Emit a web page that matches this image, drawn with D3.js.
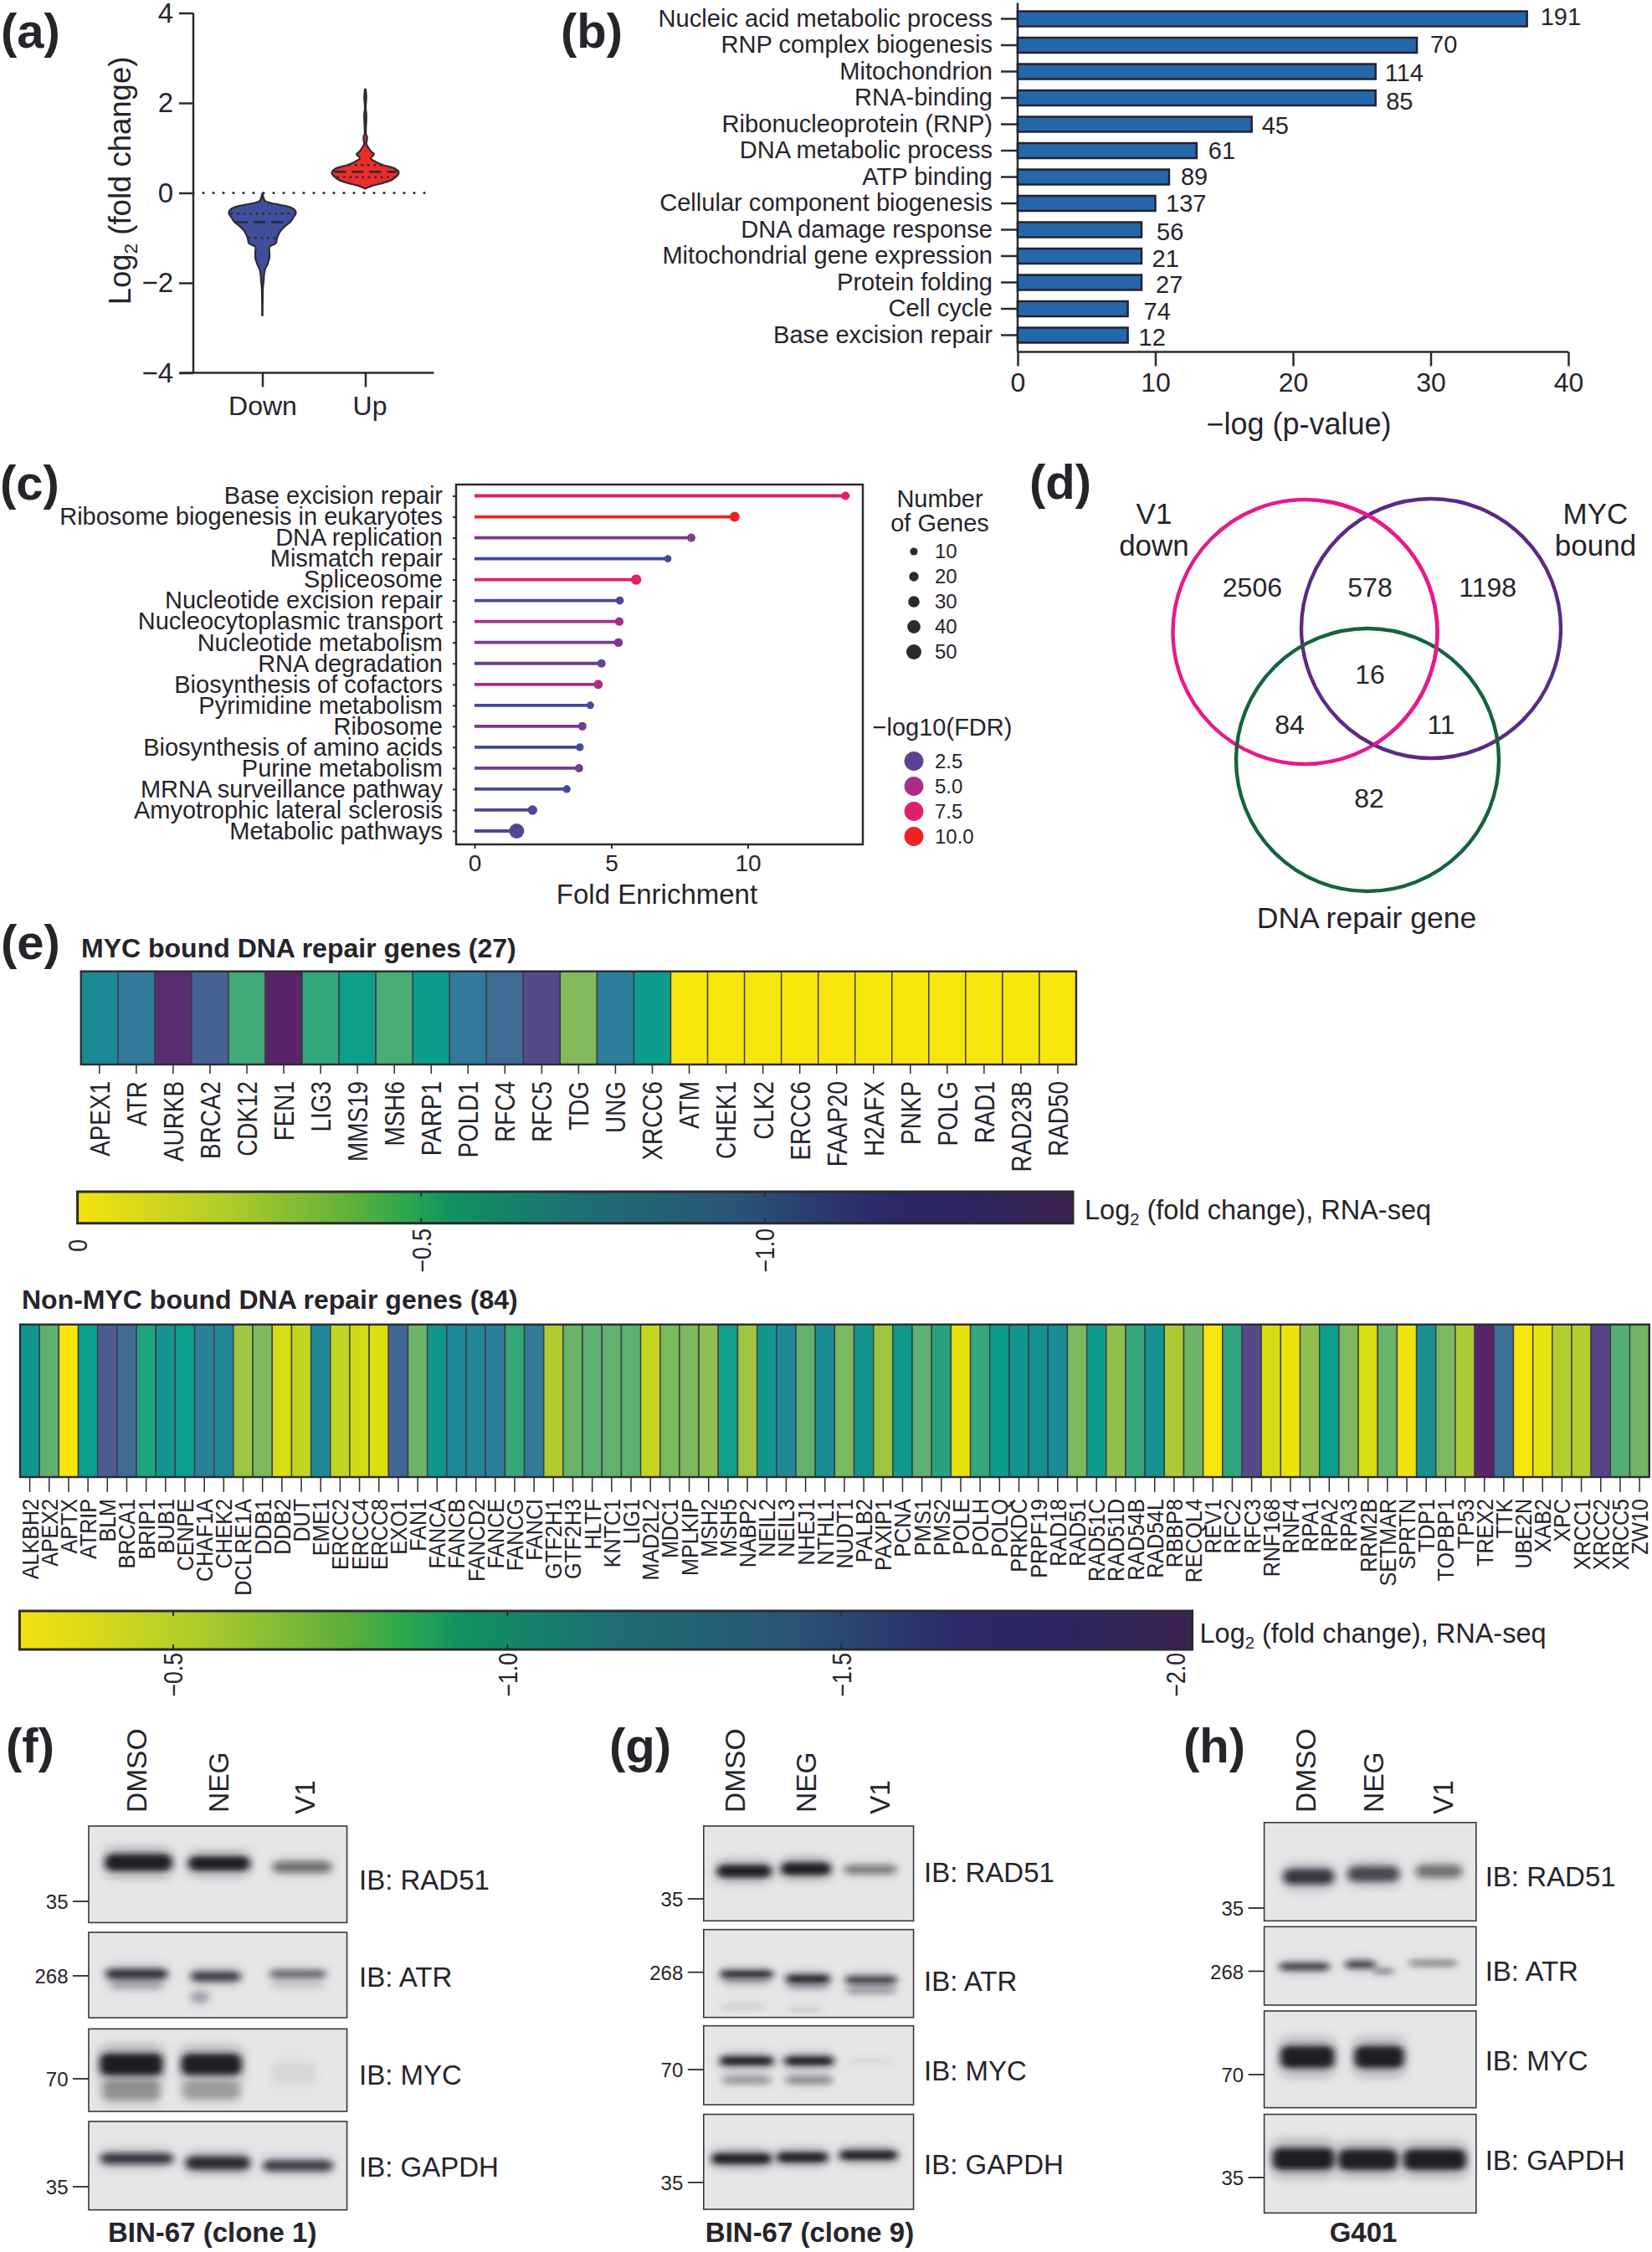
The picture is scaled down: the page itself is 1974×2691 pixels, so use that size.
<!DOCTYPE html>
<html><head><meta charset="utf-8">
<script src="https://cdnjs.cloudflare.com/ajax/libs/d3/7.8.5/d3.min.js"></script>
<style>html,body{margin:0;padding:0;background:#fff}svg{display:block}
text{font-family:"Liberation Sans",Arial,sans-serif;fill:#26242b}
.domain{stroke:#2b2a30}.tick line{stroke:#2b2a30}</style></head><body>
<script>
// ---------- DATA ----------
const violinDownLevels=[0,-.1,-.19,-.26,-.32,-.38,-.45,-.54,-.64,-.74,-.86,-1.0,-1.12,-1.2,-1.31,-1.44,-1.57,-1.7,-1.82,-1.95,-2.08,-2.72];
const violinDownDensity=[0,.03,.1,.5,.84,.97,1,.93,.84,.68,.53,.44,.4,.21,.21,.21,.16,.08,.05,.04,.02,.005];
const violinUpLevels=[.1,.16,.22,.29,.38,.45,.54,.62,.7,.77,.86,.93,1.02,1.09,1.18,1.25,1.31,1.63,1.76,1.89,2.14,2.3];
const violinUpDensity=[.02,.21,.53,.79,.95,1,.89,.53,.29,.16,.26,.16,.08,.03,.05,.05,.02,.03,.03,.01,.03,.01];
const violinDownQuart=[-.46,-.65,-1.0];
const violinUpQuart=[.62,.47,.35];

const goTerms=["Nucleic acid metabolic process","RNP complex biogenesis","Mitochondrion","RNA-binding","Ribonucleoprotein (RNP)","DNA metabolic process","ATP binding","Cellular component biogenesis","DNA damage response","Mitochondrial gene expression","Protein folding","Cell cycle","Base excision repair"];
const goLogP=[37,29,26,26,17,13,11,10,9,9,9,8,8];
const goCounts=[191,70,114,85,45,61,89,137,56,21,27,74,12];

const pathways=["Base excision repair","Ribosome biogenesis in eukaryotes","DNA replication","Mismatch repair","Spliceosome","Nucleotide excision repair","Nucleocytoplasmic transport","Nucleotide metabolism","RNA degradation","Biosynthesis of cofactors","Pyrimidine metabolism","Ribosome","Biosynthesis of amino acids","Purine metabolism","MRNA surveillance pathway","Amyotrophic lateral sclerosis","Metabolic pathways"];
const foldEnrichment=[13.58,9.52,7.93,7.07,5.91,5.31,5.29,5.26,4.64,4.52,4.23,3.94,3.85,3.82,3.37,2.12,1.54];
const pathwayGenes=[13,22,14,8,24,12,15,16,14,18,9,14,10,13,10,20,50];
const pathwayFDR=[7.9,10,3.6,1.2,7.6,1.9,5,3.5,2.8,5,1.3,3.3,1.3,3.1,1.3,1.9,2.2];
const geneLegend=[10,20,30,40,50];
const fdrLegend=[2.5,5,7.5,10];

const vennCounts=[2506,578,1198,16,84,11,82];

const mycGenes=["APEX1","ATR","AURKB","BRCA2","CDK12","FEN1","LIG3","MMS19","MSH6","PARP1","POLD1","RFC4","RFC5","TDG","UNG","XRCC6","ATM","CHEK1","CLK2","ERCC6","FAAP20","H2AFX","PNKP","POLG","RAD1","RAD23B","RAD50"];
const mycFC=[-.90,-1.02,-1.42,-1.19,-.61,-1.45,-.64,-.72,-.58,-.75,-1.02,-1.13,-1.33,-.43,-.99,-.75,0,0,0,0,0,0,0,0,0,0,0];
const nonMycGenes=["ALKBH2","APEX2","APTX","ATRIP","BLM","BRCA1","BRIP1","BUB1","CENPE","CHAF1A","CHEK2","DCLRE1A","DDB1","DDB2","DUT","EME1","ERCC2","ERCC4","ERCC8","EXO1","FAN1","FANCA","FANCB","FANCD2","FANCE","FANCG","FANCI","GTF2H1","GTF2H3","HLTF","KNTC1","LIG1","MAD2L2","MDC1","MPLKIP","MSH2","MSH5","NABP2","NEIL2","NEIL3","NHEJ1","NTHL1","NUDT1","PALB2","PAXIP1","PCNA","PMS1","PMS2","POLE","POLH","POLQ","PRKDC","PRPF19","RAD18","RAD51","RAD51C","RAD51D","RAD54B","RAD54L","RBBP8","RECQL4","REV1","RFC2","RFC3","RNF168","RNF4","RPA1","RPA2","RPA3","RRM2B","SETMAR","SPRTN","TDP1","TOPBP1","TP53","TREX2","TTK","UBE2N","XAB2","XPC","XRCC1","XRCC2","XRCC5","ZW10"];
const nonMycFC=[-1.24,-.92,-.27,-1.15,-1.76,-1.64,-1.09,-1.29,-1.15,-1.45,-1.38,-.69,-.81,-.45,-.55,-1.38,-.55,-.48,-.43,-1.67,-.87,-1.27,-1.38,-1.41,-1.48,-1.04,-1.50,-.62,-.88,-.92,-.90,-.92,-.53,-.81,-.81,-.74,-1.13,-.69,-1.25,-1.38,-.90,-1.34,-.81,-1.27,-.69,-1.22,-.92,-1.08,-.39,-1.04,-1.18,-1.27,-1.31,-1.34,-.81,-1.17,-.74,-1.04,-1.29,-.64,-.87,-.27,-1.06,-1.88,-.46,-.34,-.74,-1.15,-.81,-.45,-.88,-.32,-1.32,-.81,-.64,-2.03,-1.59,-.27,-.36,-.60,-.60,-1.90,-.95,-.85];

const lanes=["DMSO","NEG","V1"];
const targets=["RAD51","ATR","MYC","GAPDH"];

// ---------- SETUP ----------
const svg=d3.select("body").append("svg").attr("width",1974).attr("height",2691).attr("viewBox","0 0 1974 2691");
svg.append("rect").attr("width",1974).attr("height",2691).attr("fill","#fff");
const INK="#2b2a30";
function T(g,x,y,s,o={}){
  const t=g.append("text").attr("x",x).attr("y",y).attr("font-size",o.size||32).attr("text-anchor",o.anchor||"start").text(s);
  if(o.bold)t.attr("font-weight","bold");
  if(o.dy)t.attr("dy",o.dy); else t.attr("dy","0.35em");
  if(o.tf)t.attr("transform",o.tf);
  return t;
}
function logLabel(g,x,y,size,o={}){ // Log2 (fold change) with subscript
  const t=g.append("text").attr("x",x).attr("y",y).attr("font-size",size).attr("text-anchor",o.anchor||"start");
  if(o.tf)t.attr("transform",o.tf);
  t.append("tspan").text("Log");
  t.append("tspan").attr("font-size",size*.62).attr("dy",size*.22).text("2");
  t.append("tspan").attr("dy",-size*.22).text(o.rest);
  return t;
}
[["(a)",1,57],["(b)",670,57],["(c)",0,597],["(d)",1230,596],["(e)",1,1146],["(f)",7,2106],["(g)",728,2106],["(h)",1414,2106]]
 .forEach(d=>T(svg,d[1],d[2],d[0],{size:58,bold:true,dy:"0"}));

// ---------- (a) VIOLIN ----------
(function(){
  const g=svg.append("g");
  const y=d3.scaleLinear().domain([-4,4]).range([445.5,15.5]);
  const x=d3.scalePoint().domain(["Down","Up"]).range([313.5,436.5]);
  const w=d3.scaleLinear().domain([0,1]).range([0,40]);
  const ax=g.append("g").attr("transform","translate(231,0)").call(d3.axisLeft(y).tickValues([-4,-2,0,2,4]).tickSize(17).tickPadding(7).tickFormat(d=>String(d).replace("-","−")));
  ax.selectAll("text").attr("font-size",33);
  ax.selectAll("path,line").attr("stroke-width",2.5);
  ax.select(".domain").attr("d","M0,15.5V445.5");
  const bx=g.append("g").attr("transform","translate(0,445.5)").call(d3.axisBottom(x).tickSize(17).tickPadding(11));
  bx.selectAll("text").attr("font-size",32).attr("x",d=>d==="Up"?5:0);
  bx.selectAll("path,line").attr("stroke-width",2.5);
  bx.select(".domain").attr("d","M215,0H518.5");
  g.append("line").attr("x1",231).attr("x2",509).attr("y1",y(0)).attr("y2",y(0)).attr("stroke",INK).attr("stroke-width",3.2).attr("stroke-linecap","round").attr("stroke-dasharray","0 12");
  function violin(name,levels,dens,q,fill){
    const cx=x(name);
    const rows=levels.map((l,i)=>({l,d:dens[i]}));
    const a=d3.area().y(d=>y(d.l)).x0(d=>cx-w(d.d)).x1(d=>cx+w(d.d)).curve(d3.curveCatmullRom);
    g.append("path").datum(rows).attr("d",a).attr("fill",fill).attr("stroke",INK).attr("stroke-width",2.2);
    const sorted=rows.slice().sort((p,r)=>p.l-r.l);
    const den=v=>{let i=d3.bisector(d=>d.l).left(sorted,v);i=Math.max(1,Math.min(sorted.length-1,i));const p=sorted[i-1],r=sorted[i];return p.d+(r.d-p.d)*(v-p.l)/(r.l-p.l);};
    q.forEach((v,i)=>{const hw=w(den(v))*.95;
      g.append("line").attr("x1",cx-hw).attr("x2",cx+hw).attr("y1",y(v)).attr("y2",y(v)).attr("stroke",INK).attr("stroke-width",2.4).attr("stroke-dasharray",i==1?"14,7":"2.5,5");
    });
  }
  violin("Down",violinDownLevels,violinDownDensity,violinDownQuart,"#3f4f9c");
  violin("Up",violinUpLevels,violinUpDensity,violinUpQuart,"#ec2b2b");
  logLabel(g,0,0,36.5,{anchor:"middle",rest:" (fold change)",tf:"translate(156,216) rotate(-90)"});
})();

// ---------- (b) BARS ----------
(function(){
  const g=svg.append("g");
  const x=d3.scaleLinear().domain([0,40]).range([1216,1874]);
  const y=d3.scaleBand().domain(goTerms).range([6.75,416.25]).paddingInner(.43).paddingOuter(.215);
  const ay=g.append("g").attr("transform","translate(1216,0)").call(d3.axisLeft(y).tickSize(20).tickPadding(10));
  ay.selectAll("text").attr("font-size",29.1);
  ay.selectAll("path,line").attr("stroke-width",2.5);
  ay.select(".domain").attr("d","M0,3.4V420.5");
  const ax=g.append("g").attr("transform","translate(0,420.5)").call(d3.axisBottom(x).tickValues([0,10,20,30,40]).tickSize(17).tickPadding(8));
  ax.selectAll("text").attr("font-size",32);
  ax.selectAll("path,line").attr("stroke-width",2.5);
  ax.select(".domain").attr("d","M1216,0H1874");
  g.selectAll("rect.bar").data(goTerms).join("rect").attr("class","bar")
   .attr("x",x(0)).attr("y",d=>y(d)).attr("width",(d,i)=>x(goLogP[i])-x(0)).attr("height",y.bandwidth())
   .attr("fill","#2567ab").attr("stroke","#22222e").attr("stroke-width",2.5);
  const gap=[16,16,11,12.5,12,14,14,12.5,18,12.5,17,19,13], nudge=[-3,-1,1,3.5,1,0,-1,0,2.5,2.5,2,3,2];
  g.selectAll("text.val").data(goCounts).join("text").attr("class","val")
   .attr("x",(d,i)=>x(goLogP[i])+gap[i]).attr("y",(d,i)=>y(goTerms[i])+y.bandwidth()/2+nudge[i]).attr("dy",".35em").attr("font-size",29).text(d=>d);
  T(g,1552,506,"−log (p-value)",{size:36,anchor:"middle"});
})();

// ---------- (c) LOLLIPOP ----------
(function(){
  const g=svg.append("g");
  const x=d3.scaleLinear().domain([0,5,10]).range([567,730.5,893.5]);
  const y=d3.scalePoint().domain(pathways).range([592.5,993]);
  const r=d3.scaleLinear().domain([10,50]).range([4.6,9]);
  const col=d3.scaleLinear().domain([1,2.5,5,7.5,10]).range(["#3f4a9c","#5b4394","#ae2a88","#e0206a","#ed2224"]);
  const ay=g.append("g").attr("transform","translate(545,0)").call(d3.axisLeft(y).tickSize(4).tickPadding(12));
  ay.selectAll("text").attr("font-size",29);
  ay.select(".domain").remove();
  ay.selectAll("line").attr("stroke-width",2);
  const ax=g.append("g").attr("transform","translate(0,1009)").call(d3.axisBottom(x).tickValues([0,5,10]).tickSize(5).tickPadding(7));
  ax.selectAll("text").attr("font-size",28);
  ax.select(".domain").remove();
  ax.selectAll("line").attr("stroke-width",2);
  g.append("rect").attr("x",545).attr("y",579).attr("width",486).attr("height",430).attr("fill","none").attr("stroke",INK).attr("stroke-width",2.5);
  pathways.forEach((p,i)=>{
    g.append("line").attr("x1",x(0)).attr("x2",x(foldEnrichment[i])).attr("y1",y(p)).attr("y2",y(p)).attr("stroke",col(pathwayFDR[i])).attr("stroke-width",3.8);
    g.append("circle").attr("cx",x(foldEnrichment[i])).attr("cy",y(p)).attr("r",r(pathwayGenes[i])).attr("fill",col(pathwayFDR[i]));
  });
  T(g,785,1068,"Fold Enrichment",{size:33,anchor:"middle"});
  T(g,1123,596,"Number",{size:29,anchor:"middle"});
  T(g,1123,625,"of Genes",{size:29,anchor:"middle"});
  geneLegend.forEach((v,i)=>{const cy=659+i*30;
    g.append("circle").attr("cx",1092).attr("cy",cy).attr("r",r(v)).attr("fill",INK);
    T(g,1117,cy,v,{size:24});});
  T(g,1126,869,"−log10(FDR)",{size:29,anchor:"middle"});
  fdrLegend.forEach((v,i)=>{const cy=909.5+i*30;
    g.append("circle").attr("cx",1092).attr("cy",cy).attr("r",11.4).attr("fill",col(v));
    T(g,1117,cy,v.toFixed(1),{size:24});});
})();

// ---------- (d) VENN ----------
(function(){
  const g=svg.append("g");
  [[1559.5,755,158,"#e8198a"],[1710,751,155,"#5a2a86"],[1634,908,157,"#14633c"]].forEach(c=>
    g.append("circle").attr("cx",c[0]).attr("cy",c[1]).attr("r",c[2]).attr("fill","none").attr("stroke",c[3]).attr("stroke-width",4.4));
  // pink passes over the other rings on its right side
  g.append("path").attr("d",d3.arc()({innerRadius:158,outerRadius:158,startAngle:.15,endAngle:2.6})).attr("transform","translate(1559.5,755)").attr("fill","none").attr("stroke","#e8198a").attr("stroke-width",4.4);
  [[1496.4,702],[1637,702],[1777.7,702],[1637,806],[1541,865.6],[1722,865.6],[1636,954]].forEach((p,i)=>T(g,p[0],p[1],vennCounts[i],{size:32,anchor:"middle"}));
  T(g,1379,613.6,"V1",{size:35,anchor:"middle"});T(g,1379,652,"down",{size:35,anchor:"middle"});
  T(g,1906.5,613.6,"MYC",{size:35,anchor:"middle"});T(g,1906.5,652,"bound",{size:35,anchor:"middle"});
  T(g,1633,1097,"DNA repair gene",{size:35.5,anchor:"middle"});
})();

// ---------- (e) HEATMAPS ----------
const palT=[0,.08,.15,.22,.30,.37,.44,.50,.57,.62,.70,.78,.85,.92,1];
const palC=["#f8e50c","#dfe00a","#c5d61f","#a8c83a","#80b95c","#5eb070","#35a67b","#0aa08b","#12958f","#1c8a96","#317b9b","#406b96","#4c5c93","#56488a","#5a2468"];
const barT=[0,.15,.28,.33,.375,.5,.66,.8,.9,1];
const barC=["#f4e20c","#b0cc2a","#5cae3c","#2ca84f","#0f9360","#1d7073","#2a5477","#2c2a68","#2e2560","#3c2350"];
let gid=0;
function heat(genes,vals,opt){
  const g=svg.append("g");
  const x=d3.scaleBand().domain(genes).range([opt.x0,opt.x1]);
  const tScale=d3.scaleLinear().domain(opt.dom).range([0,1]);
  const col=d3.scaleLinear().domain(palT).range(palC);
  g.selectAll("rect.c").data(genes).join("rect").attr("class","c").attr("x",d=>x(d)).attr("y",opt.y0).attr("width",x.bandwidth()).attr("height",opt.y1-opt.y0)
   .attr("fill",(d,i)=>col(tScale(vals[i]))).attr("stroke","#3a3a46").attr("stroke-width",1.4);
  g.append("rect").attr("x",opt.x0).attr("y",opt.y0).attr("width",opt.x1-opt.x0).attr("height",opt.y1-opt.y0).attr("fill","none").attr("stroke",INK).attr("stroke-width",2.4);
  const ax=g.append("g").attr("transform",`translate(0,${opt.y1})`).call(d3.axisBottom(x).tickSize(opt.tick));
  ax.select(".domain").remove();
  ax.selectAll("line").attr("stroke-width",1.5);
  ax.selectAll("text").attr("font-size",opt.font).attr("text-anchor","end").attr("x",0).attr("y",0).attr("dy",".35em")
    .attr("transform",`translate(0,${opt.lab-opt.y1}) rotate(-90) scale(${opt.sq},1)`);
  // colour bar
  const cb=d3.scaleLinear().domain(opt.cbDom).range([opt.cbx0,opt.cbx1]);
  const id="cbg"+(gid++);
  const lg=svg.append("defs").append("linearGradient").attr("id",id).attr("x1",0).attr("x2",1).attr("y1",0).attr("y2",0);
  barT.forEach((t,i)=>lg.append("stop").attr("offset",t).attr("stop-color",barC[i]));
  g.append("rect").attr("x",opt.cbx0).attr("y",opt.cby0).attr("width",opt.cbx1-opt.cbx0).attr("height",opt.cby1-opt.cby0).attr("fill",`url(#${id})`).attr("stroke",INK).attr("stroke-width",3);
  const ca=g.append("g").attr("transform",`translate(0,${opt.cby1})`).call(d3.axisBottom(cb).tickValues(opt.cbTicks).tickSize(0).tickFormat(d=>d===0?"0":d3.format(".1f")(d).replace("-","−")));
  ca.select(".domain").remove();
  ca.selectAll("text").attr("font-size",31).attr("text-anchor","end").attr("x",0).attr("y",0).attr("dy",".35em")
    .attr("transform",d=>`translate(0,${(d===0?opt.cbLab+opt.zeroDrop:opt.cbLab)-opt.cby1}) rotate(-90) scale(.86,1)`);
  opt.cbTicks.forEach(v=>{
    [[opt.cby0,opt.cby0+6],[opt.cby1-6,opt.cby1]].forEach(s=>g.append("line").attr("x1",cb(v)).attr("x2",cb(v)).attr("y1",s[0]).attr("y2",s[1]).attr("stroke",INK).attr("stroke-width",2));
  });
  T(g,opt.tx,opt.ty,opt.title,{size:32,bold:true});
  logLabel(g,opt.lx,opt.ly+11,32.5,{rest:" (fold change), RNA-seq",tf:null});
}
heat(mycGenes,mycFC,{x0:96.8,x1:1286,y0:1160.7,y1:1272,tick:11,font:34,sq:.82,lab:1292,dom:[0,-1.45],
  cbDom:[0,-1.448],cbx0:92.6,cbx1:1282,cby0:1424,cby1:1461.7,cbTicks:[0,-.5,-1],cbLab:1468,zeroDrop:13,
  tx:97,ty:1133,title:"MYC bound DNA repair genes (27)",lx:1296,ly:1446});
heat(nonMycGenes,nonMycFC,{x0:24,x1:1970.7,y0:1582.7,y1:1765,tick:18,font:28.5,sq:.88,lab:1791,dom:[-.27,-2.025],
  cbDom:[-.27,-2.025],cbx0:23.4,cbx1:1424.6,cby0:1925,cby1:1971,cbTicks:[-.5,-1,-1.5,-2],cbLab:1975,zeroDrop:0,
  tx:26,ty:1553,title:"Non-MYC bound DNA repair genes (84)",lx:1433.5,ly:1951.6});

// ---------- (f,g,h) IMMUNOBLOTS ----------
const defs=svg.append("defs");
defs.append("filter").attr("id","bandBlur").attr("filterUnits","userSpaceOnUse").attr("x",0).attr("y",2100).attr("width",1974).attr("height",600)
  .append("feGaussianBlur").attr("stdDeviation","4 3");
defs.append("filter").attr("id","bandHalo").attr("filterUnits","userSpaceOnUse").attr("x",0).attr("y",2100).attr("width",1974).attr("height",600)
  .append("feGaussianBlur").attr("stdDeviation","7 6");
// each band: [lane centre, y, width, height, darkness] as fractions of its box
const blotF={boxes:[[2182,2297.4],[2309,2411],[2424.4,2523],[2535,2640.7]],x:[106,414.6],mw:[["35",2272],["268",2361],["70",2484],["35",2613]],ib:[2246,2362.5,2479,2589],lane:[163,261,364],lx:429,title:["BIN-67 (clone 1)",253.7],
 bands:[[[.193,.378,.25,.13,1],[.505,.388,.23,.11,1],[.826,.424,.22,.085,.5]],
 [[.186,.488,.23,.085,.85],[.186,.62,.2,.08,.2],[.492,.516,.185,.085,.75],[.43,.76,.07,.1,.25],[.81,.488,.21,.07,.55],[.81,.62,.2,.06,.1]],
 [[.165,.43,.235,.2,1],[.165,.752,.22,.17,.35],[.475,.43,.225,.19,1],[.475,.752,.22,.15,.3],[.795,.54,.17,.2,.05]],
 [[.186,.42,.27,.09,.8],[.5,.47,.24,.11,.9],[.81,.5,.26,.09,.75]]]};
const blotG={boxes:[[2182,2295.3],[2305.7,2410.7],[2420.7,2515],[2526.5,2640]],x:[840.8,1091.6],mw:[["35",2269],["268",2356.7],["70",2473],["35",2607.9]],ib:[2237.6,2367,2474,2586],lane:[877.8,962.8,1051],lx:1104,title:["BIN-67 (clone 9)",967.5],
 bands:[[[.193,.476,.25,.1,1],[.487,.451,.23,.1,1],[.794,.458,.24,.07,.45]],
 [[.205,.506,.24,.055,1],[.205,.59,.22,.05,.2],[.19,.877,.2,.04,.1],[.497,.56,.2,.065,1],[.497,.65,.19,.05,.2],[.48,.91,.16,.04,.1],[.797,.573,.235,.065,.75],[.797,.69,.225,.05,.35]],
 [[.205,.445,.245,.085,1],[.205,.687,.22,.07,.35],[.502,.445,.225,.085,1],[.502,.687,.215,.07,.4],[.794,.45,.2,.06,.05]],
 [[.181,.467,.275,.085,1],[.47,.453,.235,.08,1],[.785,.43,.265,.075,1]]]};
const blotH={boxes:[[2177.8,2295.3],[2302.3,2396],[2403,2518.6],[2526.5,2644.4]],x:[1510.6,1763.8],mw:[["35",2280],["268",2355.5],["70",2479],["35",2602]],ib:[2242,2355.5,2462,2581],lane:[1560.4,1641,1724],lx:1774.7,title:["G401",1629],
 bands:[[[.21,.551,.23,.115,.8],[.516,.523,.235,.115,.7],[.824,.495,.21,.095,.5]],
 [[.19,.509,.225,.065,.8],[.454,.482,.135,.065,.8],[.564,.566,.09,.04,.55],[.796,.465,.215,.05,.45]],
 [[.204,.475,.245,.17,1],[.543,.475,.225,.17,1]],
 [[.185,.45,.28,.165,1],[.49,.46,.27,.155,1],[.805,.46,.285,.155,1]]]};
[blotF,blotG,blotH].forEach((b,bi)=>{
  const g=svg.append("g");
  const bw=b.x[1]-b.x[0];
  b.boxes.forEach((bx,i)=>{
    const id=`clip${bi}_${i}`;
    defs.append("clipPath").attr("id",id).append("rect").attr("x",b.x[0]).attr("y",bx[0]).attr("width",bw).attr("height",bx[1]-bx[0]);
    g.append("rect").attr("x",b.x[0]).attr("y",bx[0]).attr("width",bw).attr("height",bx[1]-bx[0]).attr("fill","#e6e6e9");
    const fx=d3.scaleLinear().domain([0,1]).range(b.x), fy=d3.scaleLinear().domain([0,1]).range(bx);
    const clipG=g.append("g").attr("clip-path",`url(#${id})`);
    const hg=clipG.append("g").attr("filter","url(#bandHalo)");
    const cg=clipG.append("g").attr("filter","url(#bandBlur)");
    b.bands[i].forEach(d=>{
      const W=(fx(d[2])-fx(0))*1.03,H=(fy(d[3])-fy(0))*1.3;
      hg.append("rect").attr("x",fx(d[0])-W/2).attr("y",fy(d[1])-H*.9).attr("width",W).attr("height",H*1.8).attr("rx",8).attr("fill","#15141c").attr("opacity",d[4]*.28);
      cg.append("rect").attr("x",fx(d[0])-W/2).attr("y",fy(d[1])-H/2).attr("width",W).attr("height",H).attr("rx",Math.min(H/2,8)).attr("fill","#15141c").attr("opacity",d[4]*.95);
    });
    g.append("rect").attr("x",b.x[0]).attr("y",bx[0]).attr("width",bw).attr("height",bx[1]-bx[0]).attr("fill","none").attr("stroke","#38383c").attr("stroke-width",1.6);
    // MW marker and target label
    g.append("line").attr("x1",b.x[0]-19).attr("x2",b.x[0]).attr("y1",b.mw[i][1]).attr("y2",b.mw[i][1]).attr("stroke",INK).attr("stroke-width",1.8);
    T(g,b.x[0]-24.5,b.mw[i][1]+1,b.mw[i][0],{size:24,anchor:"end"});
    T(g,b.lx,b.ib[i],"IB: "+targets[i],{size:33});
  });
  lanes.forEach((l,i)=>T(g,0,0,l,{size:33.5,tf:`translate(${b.lane[i]},${i==2?2168:2166}) rotate(-90)`}));
  T(g,b.title[1],2667.6,b.title[0],{size:33,bold:true,anchor:"middle"});
});
</script></body></html>
